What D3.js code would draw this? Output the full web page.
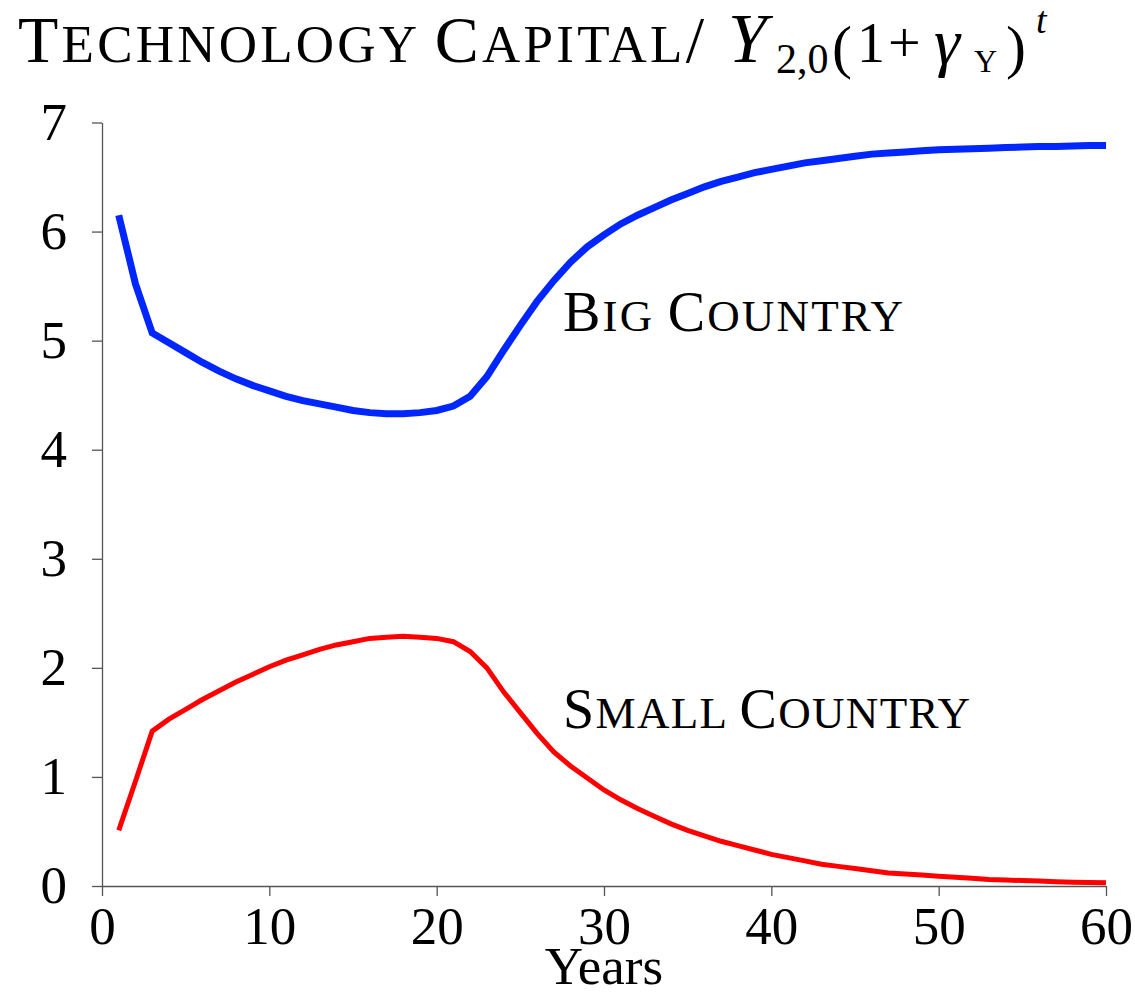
<!DOCTYPE html>
<html>
<head>
<meta charset="utf-8">
<script src="https://cdn.jsdelivr.net/npm/d3@7"></script>
<style>
  body { margin: 0; background: #fff; }
  svg { display: block; font-family: "Liberation Serif", "DejaVu Serif", serif; }
</style>
</head>
<body>
<svg id="chart" width="1135" height="996"></svg>
<script>
// years 1..60
const years = d3.range(1, 61);

const bigCountry = [
  6.15, 5.52, 5.07, 4.98, 4.89, 4.80, 4.72, 4.65, 4.59, 4.54,
  4.49, 4.45, 4.42, 4.39, 4.36, 4.34, 4.33, 4.33, 4.34, 4.36,
  4.40, 4.49, 4.67, 4.91, 5.14, 5.36, 5.55, 5.72, 5.86, 5.97,
  6.07, 6.15, 6.22, 6.29, 6.35, 6.41, 6.46, 6.50, 6.54, 6.57,
  6.60, 6.63, 6.65, 6.67, 6.69, 6.71, 6.72, 6.73, 6.74, 6.75,
  6.755, 6.76, 6.765, 6.77, 6.775, 6.78, 6.78, 6.785, 6.79, 6.79
];

const smallCountry = [
  0.51, 0.96, 1.42, 1.53, 1.62, 1.71, 1.79, 1.87, 1.94, 2.01,
  2.07, 2.12, 2.17, 2.21, 2.24, 2.27, 2.28, 2.29, 2.28, 2.27,
  2.24, 2.15, 2.00, 1.78, 1.59, 1.40, 1.23, 1.10, 0.99, 0.88,
  0.79, 0.71, 0.64, 0.57, 0.51, 0.46, 0.41, 0.37, 0.33, 0.29,
  0.26, 0.23, 0.20, 0.18, 0.16, 0.14, 0.12, 0.11, 0.10, 0.09,
  0.08, 0.07, 0.06, 0.055, 0.05, 0.045, 0.04, 0.035, 0.032, 0.03
];

const xTicks = [0, 10, 20, 30, 40, 50, 60];
const yTicks = [0, 1, 2, 3, 4, 5, 6, 7];

const svg = d3.select("#chart");

const x = d3.scaleLinear().domain([0, 60]).range([102, 1106]);
const y = d3.scaleLinear().domain([0, 7]).range([886, 122.5]);

// small caps by hand: first letter of each word full size, the rest smaller
function smallCaps(textSel, str, big, small) {
    str.split(" ").forEach((word, i) => {
        if (i > 0) textSel.append("tspan").attr("font-size", small).text(" ");
        textSel.append("tspan").attr("font-size", big).text(word[0]);
        const rest = word.slice(1);
        // trailing slash stays full size
        const core = rest.replace("/", "");
        if (core) textSel.append("tspan").attr("font-size", small).text(core.toUpperCase());
        if (rest.endsWith("/")) textSel.append("tspan").attr("font-size", big).text("/");
    });
}

// axes
const xAxis = svg.append("g")
    .attr("transform", "translate(0," + y(0) + ")")
    .call(d3.axisBottom(x).tickValues(xTicks).tickSize(10).tickSizeOuter(0).tickPadding(10));

const yAxis = svg.append("g")
    .attr("transform", "translate(" + x(0) + ",0)")
    .call(d3.axisLeft(y).tickValues(yTicks).tickFormat(d3.format("d"))
        .tickSize(10).tickSizeOuter(0).tickPadding(25));

[xAxis, yAxis].forEach(a => {
    a.select(".domain").attr("stroke", "#555").attr("stroke-width", 1.3);
    a.selectAll(".tick line").attr("stroke", "#555").attr("stroke-width", 1.3);
    a.selectAll(".tick text")
        .attr("fill", "#000")
        .attr("font-family", "Liberation Serif, serif")
        .attr("font-size", 53);
});

// lines
const line = d3.line()
    .x((d, i) => x(years[i]))
    .y(d => y(d));

svg.append("path")
    .datum(bigCountry)
    .attr("fill", "none")
    .attr("stroke", "#0026ff")
    .attr("stroke-width", 7)
    .attr("d", line);

svg.append("path")
    .datum(smallCountry)
    .attr("fill", "none")
    .attr("stroke", "#ff0000")
    .attr("stroke-width", 5)
    .attr("d", line);

// series labels
const bigLabel = svg.append("text")
    .attr("x", 563).attr("y", 331)
    .attr("textLength", 340).attr("lengthAdjust", "spacing");
smallCaps(bigLabel, "Big Country", 56, 45);

const smallLabel = svg.append("text")
    .attr("x", 563).attr("y", 728)
    .attr("textLength", 407).attr("lengthAdjust", "spacing");
smallCaps(smallLabel, "Small Country", 56, 45);

// x label
svg.append("text")
    .attr("x", (x(0) + x(60)) / 2)
    .attr("y", 984)
    .attr("text-anchor", "middle")
    .attr("font-size", 53)
    .text("Years");

// title
const titleWords = svg.append("text")
    .attr("x", 18).attr("y", 62)
    .attr("textLength", 686).attr("lengthAdjust", "spacing");
smallCaps(titleWords, "Technology Capital/", 66, 53);

const math = svg.append("text");
math.append("tspan").attr("x", 728).attr("y", 62).attr("font-size", 70).attr("font-style", "italic").text("Y");
math.append("tspan").attr("x", 776).attr("y", 73).attr("font-size", 42).text("2,0");
math.append("tspan").attr("x", 832).attr("y", 67).attr("font-size", 60).text("(");
math.append("tspan").attr("x", 857).attr("y", 62).attr("font-size", 56).text("1");
math.append("tspan").attr("x", 888).attr("y", 62).attr("font-size", 58).text("+");
math.append("tspan").attr("x", 934).attr("y", 64).attr("font-size", 66).attr("font-style", "italic").text("γ");
math.append("tspan").attr("x", 974).attr("y", 72).attr("font-size", 32).text("Y");
math.append("tspan").attr("x", 1006).attr("y", 67).attr("font-size", 60).text(")");
math.append("tspan").attr("x", 1036).attr("y", 33).attr("font-size", 38).attr("font-style", "italic").text("t");
</script>
</body>
</html>
